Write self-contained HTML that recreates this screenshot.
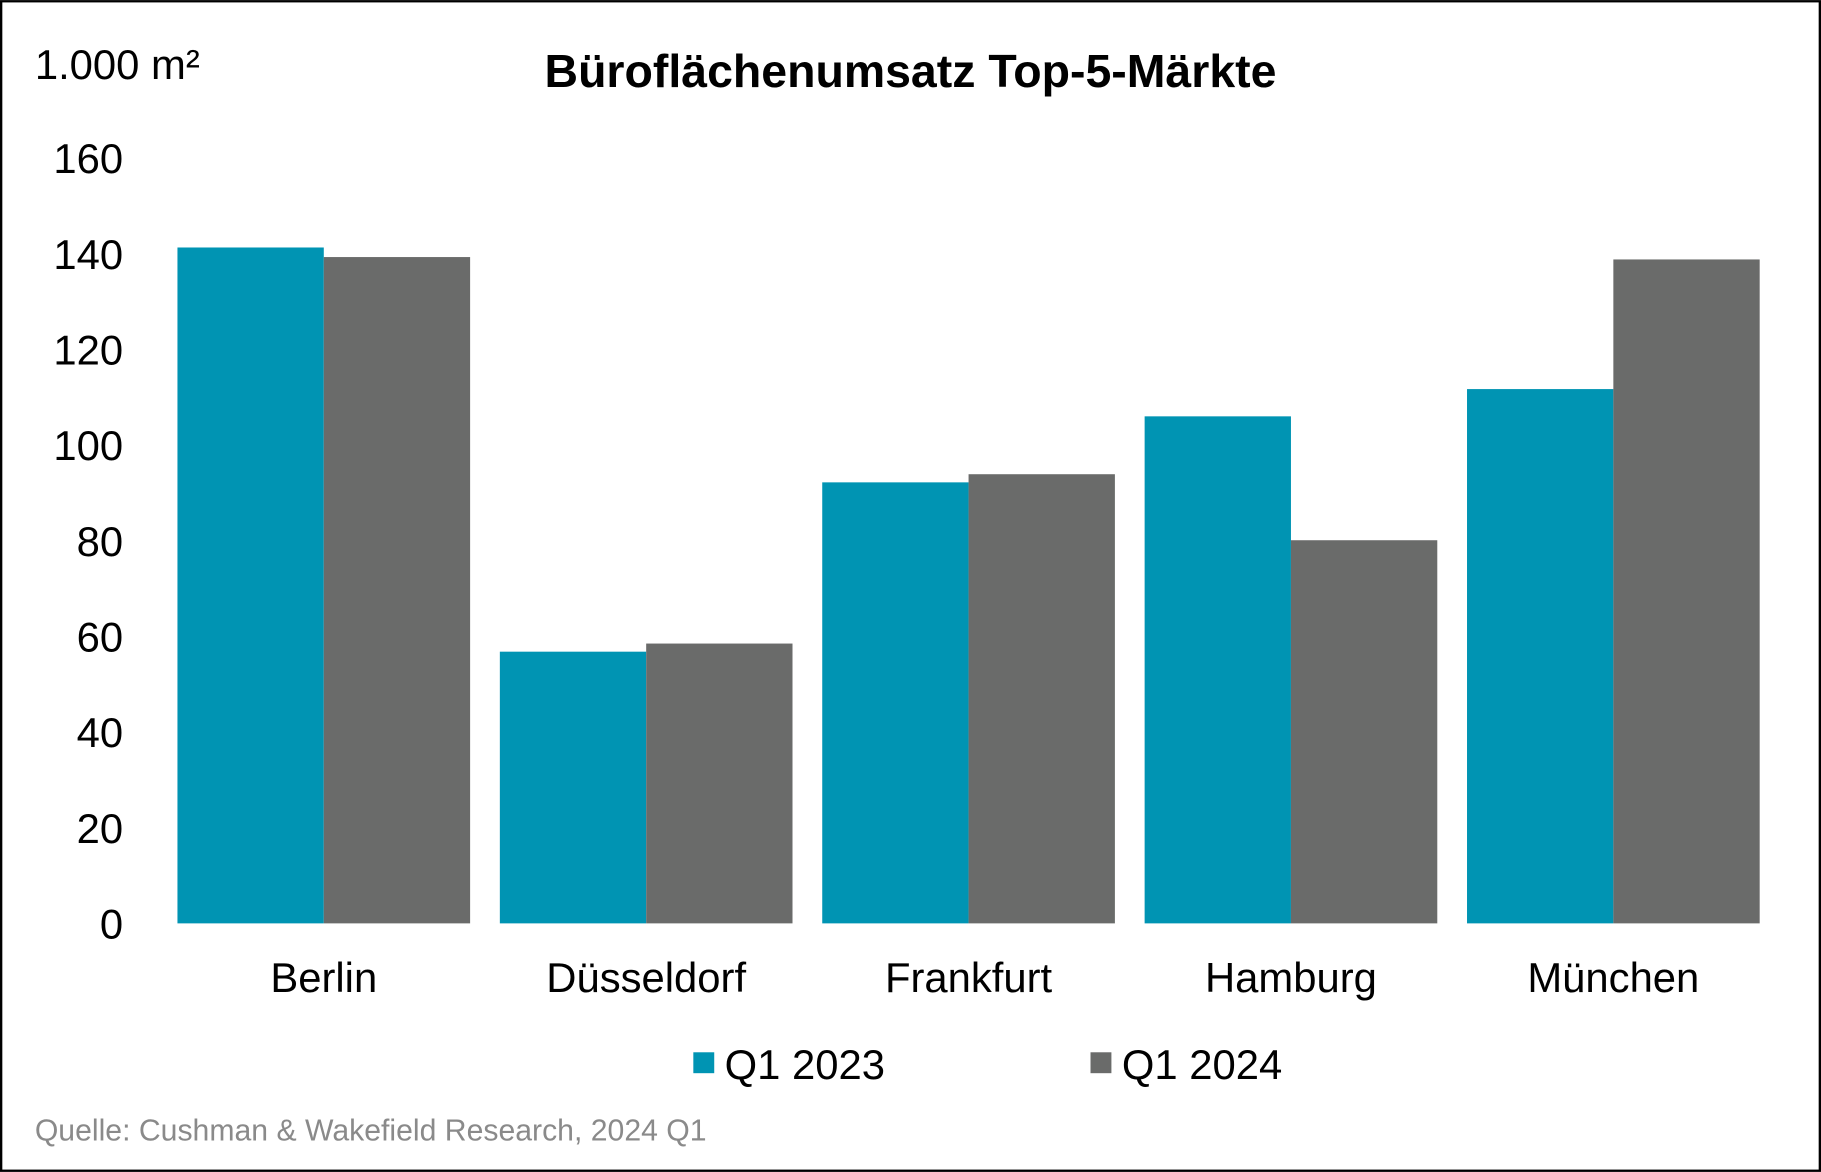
<!DOCTYPE html>
<html><head><meta charset="utf-8"><style>
html,body{margin:0;padding:0;background:#fff}
svg{display:block}
text{font-family:"Liberation Sans",Arial,sans-serif}
</style></head><body>
<svg id="chart" width="1821" height="1172" viewBox="0 0 1568 1009" xmlns="http://www.w3.org/2000/svg">
<rect x="1" y="1" width="1566" height="1007" fill="#fff" stroke="#000" stroke-width="2"/>
<text x="30" y="68" font-size="36" fill="#000">1.000 m²</text>
<text x="784" y="75" font-size="40" font-weight="bold" text-anchor="middle" fill="#000">Büroflächenumsatz Top-5-Märkte</text>
<g id="yaxis"></g>
<g id="bars"></g>
<g id="xaxis"></g>
<g>
<rect x="597" y="906" width="18" height="18" fill="#0094b3"/>
<text x="624" y="929" font-size="36" fill="#000">Q1 2023</text>
<rect x="939" y="906" width="18" height="18" fill="#6a6b6a"/>
<text x="966" y="929" font-size="36" fill="#000">Q1 2024</text>
</g>
<text x="30" y="982" font-size="26" fill="#8a8a8a">Quelle: Cushman &amp; Wakefield Research, 2024 Q1</text>
</svg>
<script>
const categories = ["Berlin","Düsseldorf","Frankfurt","Hamburg","München"];
const q12023 = [141.3, 56.8, 92.2, 106, 111.7];
const q12024 = [139.3, 58.5, 93.9, 80.1, 138.8];
const yTicks = [0,20,40,60,80,100,120,140,160];

const NS = "http://www.w3.org/2000/svg";
const y0 = 795, yTop = 136, yMax = 160;
const xStart = 140, catW = 277.6, barW = 126;
function yScale(v){ return y0 - (v / yMax) * (y0 - yTop); }
function xCat(i){ return xStart + i * catW + catW / 2; }

const yaxis = document.getElementById('yaxis');
yTicks.forEach(t => {
  const tx = document.createElementNS(NS, 'text');
  
  
  tx.setAttribute('x', 106);
  tx.setAttribute('y', yScale(t) + 13);
  tx.setAttribute('font-size', 36);
  tx.setAttribute('text-anchor', 'end');
  tx.textContent = t;
  yaxis.appendChild(tx);
});

const bars = document.getElementById('bars');
const series = [[q12023, '#0094b3', 'bar-q1-2023'], [q12024, '#6a6b6a', 'bar-q1-2024']];
categories.forEach((c, i) => {
  series.forEach((s, k) => {
    const v = s[0][i];
    const r = document.createElementNS(NS, 'rect');
    
    
    r.setAttribute('x', xCat(i) - barW + k * barW);
    r.setAttribute('y', yScale(v));
    r.setAttribute('width', barW);
    r.setAttribute('height', y0 - yScale(v));
    r.setAttribute('fill', s[1]);
    bars.appendChild(r);
  });
});

const xaxis = document.getElementById('xaxis');
categories.forEach((c, i) => {
  const tx = document.createElementNS(NS, 'text');
  
  
  tx.setAttribute('x', xCat(i));
  tx.setAttribute('y', 854);
  tx.setAttribute('font-size', 36);
  tx.setAttribute('text-anchor', 'middle');
  tx.textContent = c;
  xaxis.appendChild(tx);
});
</script>
</body></html>
